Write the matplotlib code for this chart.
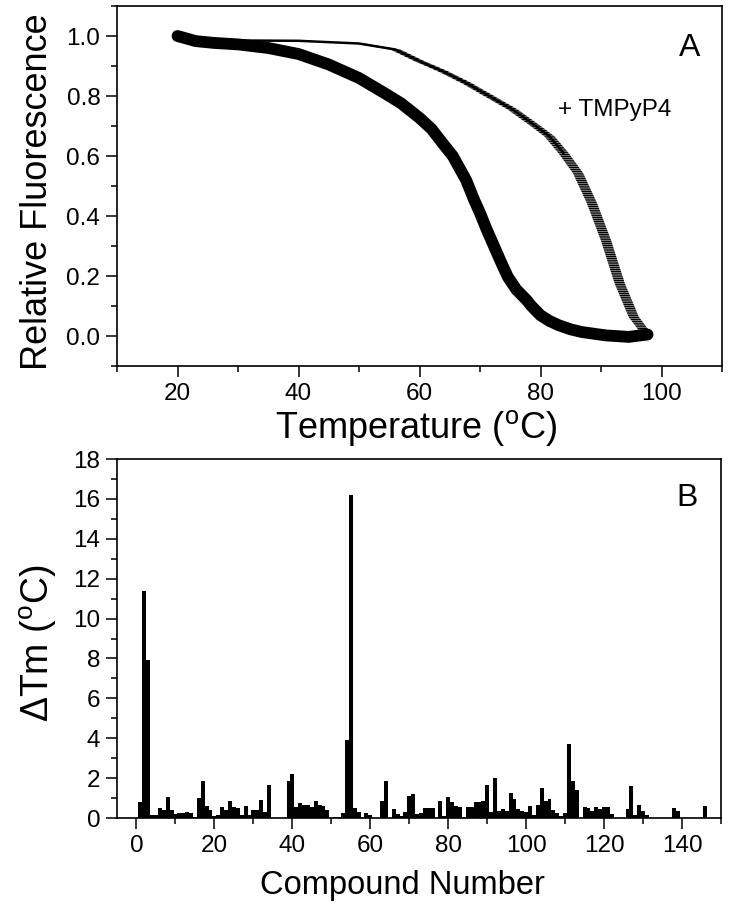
import numpy as np
import matplotlib
matplotlib.use("Agg")
import matplotlib.pyplot as plt
from matplotlib.ticker import MultipleLocator

plt.rcParams['font.family'] = ['Liberation Sans', 'DejaVu Sans']
plt.rcParams['mathtext.default'] = 'regular'
plt.rcParams['hatch.color'] = 'black'
plt.rcParams['hatch.linewidth'] = 1.0

# ---- Panel A data ----
temp_ctrl = [20, 23, 26, 30, 35, 40, 45, 50, 54.6, 57, 60, 62, 63.8, 65.5, 67.7, 69,
             70, 71, 72.3, 73.5, 74.6, 76, 77.7, 78.5, 80, 81.5, 83, 85, 86.9, 90.8,
             94.6, 97.7]
fl_ctrl = [1.0, 0.983, 0.977, 0.972, 0.96, 0.94, 0.905, 0.86, 0.805, 0.775, 0.727,
           0.69, 0.643, 0.6, 0.52, 0.455, 0.41, 0.36, 0.30, 0.245, 0.197, 0.155,
           0.12, 0.10, 0.069, 0.05, 0.036, 0.022, 0.013, 0.002, -0.003, 0.005]

temp_tmp = [20, 25, 30, 40, 50, 56, 60, 63.8, 67.7, 71.5, 75.4, 79.2, 81.5, 83.8,
            86.2, 88.5, 90.8, 93.1, 95.4, 97.3]
fl_tmp = [1.0, 0.99, 0.985, 0.984, 0.975, 0.955, 0.916, 0.883, 0.844, 0.80, 0.755,
          0.70, 0.665, 0.61, 0.543, 0.443, 0.32, 0.175, 0.064, 0.013]

# ---- Panel B data ----
compounds = list(range(1, 147))
delta_tm = [
    0.8, 11.4, 7.9, 0.17, 0.17, 0.5, 0.42, 1.03, 0.42, 0.18,          # 1-10
    0.23, 0.27, 0.32, 0.25, 0.03, 1.02, 1.87, 0.58, 0.42, 0.12,        # 11-20
    0.17, 0.53, 0.4, 0.87, 0.53, 0.5, 0.15, 0.62, 0.15, 0.4,           # 21-30
    0.42, 0.9, 0.32, 1.67, 0, 0, 0, 0, 1.87, 2.2,                      # 31-40
    0.53, 0.75, 0.65, 0.65, 0.53, 0.87, 0.65, 0.58, 0.4, 0,            # 41-50
    0.03, 0.07, 0.25, 3.93, 16.2, 0.48, 0.28, 0.03, 0.23, 0.17,        # 51-60
    0, 0, 0.87, 1.87, 0, 0.45, 0.2, 0.08, 0.28, 1.12,                  # 61-70
    1.2, 0.2, 0.25, 0.5, 0.48, 0.5, 0, 0.83, 0.12, 1.03,               # 71-80
    0.78, 0.62, 0.53, 0.03, 0.53, 0.53, 0.78, 0.78, 0.83, 1.65,        # 81-90
    0.28, 2.0, 0.37, 0.45, 0.37, 1.23, 0.95, 0.45, 0.37, 0.28,         # 91-100
    0.58, 0.15, 0.65, 1.48, 0.87, 0.95, 0.42, 0.23, 0.12, 0.23,        # 101-110
    3.7, 1.87, 1.4, 0, 0.53, 0.48, 0.37, 0.53, 0.45, 0.57,             # 111-120
    0.57, 0.2, 0, 0, 0, 0.45, 1.62, 0.17, 0.65, 0.37,                  # 121-130
    0.15, 0, 0, 0, 0, 0, 0, 0.48, 0.33, 0,                             # 131-140
    0, 0, 0, 0, 0, 0.58,                                               # 141-146
]

W, H = 729, 922
fig = plt.figure(figsize=(W / 100, H / 100), dpi=100)

def frac(l, t, r, b):
    return [l / W, 1 - b / H, (r - l) / W, (b - t) / H]

ax1 = fig.add_axes(frac(117, 6, 722, 366))
ax2 = fig.add_axes(frac(117, 459, 721, 818))

TICK_FS = 17.5
for ax in (ax1, ax2):
    for s in ax.spines.values():
        s.set_linewidth(1.2)
    ax.tick_params(which='major', direction='out', length=8, width=1.1,
                   labelsize=TICK_FS, top=False, right=False, pad=4)
    ax.tick_params(which='minor', direction='out', length=4.5, width=1.1,
                   top=False, right=False)

# ---- Panel A ----
ax1.plot(temp_ctrl, fl_ctrl, color='black', lw=8.5, solid_capstyle='round',
         solid_joinstyle='round')
t_arr = np.array(temp_tmp)
f_arr = np.array(fl_tmp)
half = 0.85
ax1.fill_betweenx(f_arr, t_arr - half, t_arr + half, facecolor='none',
                  edgecolor='black', linewidth=0, hatch='-' * 9)
upper = f_arr > 0.6
ax1.plot(t_arr[upper], f_arr[upper], color='black', lw=1.8,
         solid_capstyle='round')

ax1.set_xlim(10, 110)
ax1.set_ylim(-0.1, 1.1)
ax1.xaxis.set_minor_locator(MultipleLocator(10))
ax1.yaxis.set_minor_locator(MultipleLocator(0.1))
ax1.set_xticks([20, 40, 60, 80, 100])
ax1.set_yticks([0.0, 0.2, 0.4, 0.6, 0.8, 1.0])
ax1.set_yticklabels(['0.0', '0.2', '0.4', '0.6', '0.8', '1.0'])
ax1.text(0.946, 0.883, 'A', transform=ax1.transAxes, fontsize=23,
         ha='center', va='center')
ax1.text(0.822, 0.711, '+ TMPyP4', transform=ax1.transAxes, fontsize=17.5,
         ha='center', va='center')

fig.text(38 / W, 1 - 192 / H, 'Relative Fluorescence', rotation=90,
         fontsize=26, ha='center', va='center')
fig.text(416 / W, 1 - 428 / H, 'Temperature ($^{o}$C)', fontsize=26,
         ha='center', va='center')

# ---- Panel B ----
ax2.bar(compounds, delta_tm, width=1.0, color='black', linewidth=0)
ax2.set_xlim(-5, 150)
ax2.set_ylim(0, 18)
ax2.xaxis.set_minor_locator(MultipleLocator(10))
ax2.yaxis.set_minor_locator(MultipleLocator(1))
ax2.set_xticks(list(range(0, 141, 20)))
ax2.set_yticks(list(range(0, 19, 2)))
ax2.text(0.944, 0.891, 'B', transform=ax2.transAxes, fontsize=23,
         ha='center', va='center')

fig.text(38 / W, 1 - 643 / H, '$\\Delta$Tm ($^{o}$C)', rotation=90,
         fontsize=27, ha='center', va='center')
fig.text(402 / W, 1 - 885 / H, 'Compound Number', fontsize=23.5,
         ha='center', va='center')

fig.savefig('out.png', dpi=100)
